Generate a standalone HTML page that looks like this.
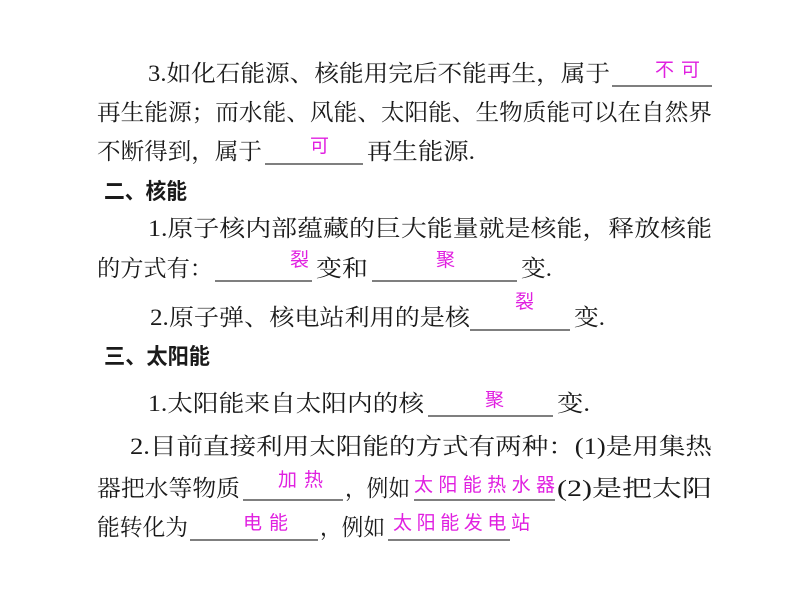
<!DOCTYPE html>
<html><head><meta charset="utf-8"><style>
html,body{margin:0;padding:0;background:#fff;}
svg{display:block;}
text{font-family:"Liberation Serif","Noto Serif CJK SC","Noto Sans CJK SC",serif;font-size:23px;fill:#1a1a1a;}
.m{font-family:"Liberation Sans","Noto Sans CJK SC",sans-serif;font-size:19px;fill:#e020e0;}
.b{font-family:"Liberation Sans","Noto Sans CJK SC",sans-serif;font-weight:bold;font-size:22px;}
line{stroke:#333;stroke-width:1.3;}
</style></head><body>
<svg width="800" height="600" xmlns="http://www.w3.org/2000/svg">
<text x="148" y="81" textLength="462" lengthAdjust="spacingAndGlyphs">3.如化石能源、核能用完后不能再生，属于</text>
<line x1="612" y1="86" x2="712" y2="86"/>
<text class="m" x="655" y="76" textLength="45" lengthAdjust="spacing">不可</text>

<text x="97" y="120" textLength="615" lengthAdjust="spacingAndGlyphs">再生能源；而水能、风能、太阳能、生物质能可以在自然界</text>

<text x="97" y="159" textLength="165" lengthAdjust="spacingAndGlyphs">不断得到，属于</text>
<line x1="265" y1="164" x2="363" y2="164"/>
<text class="m" x="310" y="152">可</text>
<text x="367" y="159" textLength="108" lengthAdjust="spacingAndGlyphs">再生能源.</text>

<text class="b" x="104" y="199" textLength="83" lengthAdjust="spacingAndGlyphs">二、核能</text>

<text x="148" y="236" textLength="564" lengthAdjust="spacingAndGlyphs">1.原子核内部蕴藏的巨大能量就是核能，释放核能</text>

<text x="97" y="276" textLength="116" lengthAdjust="spacingAndGlyphs">的方式有：</text>
<line x1="215" y1="281" x2="312" y2="281"/>
<text class="m" x="290" y="266">裂</text>
<text x="316" y="276" textLength="52" lengthAdjust="spacingAndGlyphs">变和</text>
<line x1="372" y1="281" x2="517" y2="281"/>
<text class="m" x="436" y="266">聚</text>
<text x="521" y="276" textLength="31" lengthAdjust="spacingAndGlyphs">变.</text>

<text x="150" y="325" textLength="320" lengthAdjust="spacingAndGlyphs">2.原子弹、核电站利用的是核</text>
<line x1="470" y1="330" x2="570" y2="330"/>
<text class="m" x="515" y="308">裂</text>
<text x="574" y="325" textLength="31" lengthAdjust="spacingAndGlyphs">变.</text>

<text class="b" x="104" y="364" textLength="106" lengthAdjust="spacingAndGlyphs">三、太阳能</text>

<text x="148" y="411" textLength="276" lengthAdjust="spacingAndGlyphs">1.太阳能来自太阳内的核</text>
<line x1="428" y1="416" x2="553" y2="416"/>
<text class="m" x="485" y="406">聚</text>
<text x="557" y="411" textLength="33" lengthAdjust="spacingAndGlyphs">变.</text>

<text x="130" y="454" textLength="582" lengthAdjust="spacingAndGlyphs">2.目前直接利用太阳能的方式有两种：(1)是用集热</text>

<text x="97" y="496" textLength="143" lengthAdjust="spacingAndGlyphs">器把水等物质</text>
<line x1="243" y1="500" x2="343" y2="500"/>
<text class="m" x="278" y="486" textLength="45" lengthAdjust="spacing">加热</text>
<text x="345" y="496" textLength="65" lengthAdjust="spacingAndGlyphs">，例如</text>
<line x1="414" y1="500" x2="555" y2="500"/>
<text class="m" x="414" y="491" textLength="141" lengthAdjust="spacing">太阳能热水器</text>
<text x="557" y="496" textLength="155" lengthAdjust="spacingAndGlyphs">(2)是把太阳</text>

<text x="97" y="535" textLength="91" lengthAdjust="spacingAndGlyphs">能转化为</text>
<line x1="190" y1="540" x2="318" y2="540"/>
<text class="m" x="243" y="529" textLength="45" lengthAdjust="spacing">电能</text>
<text x="320" y="535" textLength="65" lengthAdjust="spacingAndGlyphs">，例如</text>
<line x1="388" y1="540" x2="510" y2="540"/>
<text class="m" x="393" y="529" textLength="137" lengthAdjust="spacing">太阳能发电站</text>
</svg>
</body></html>
